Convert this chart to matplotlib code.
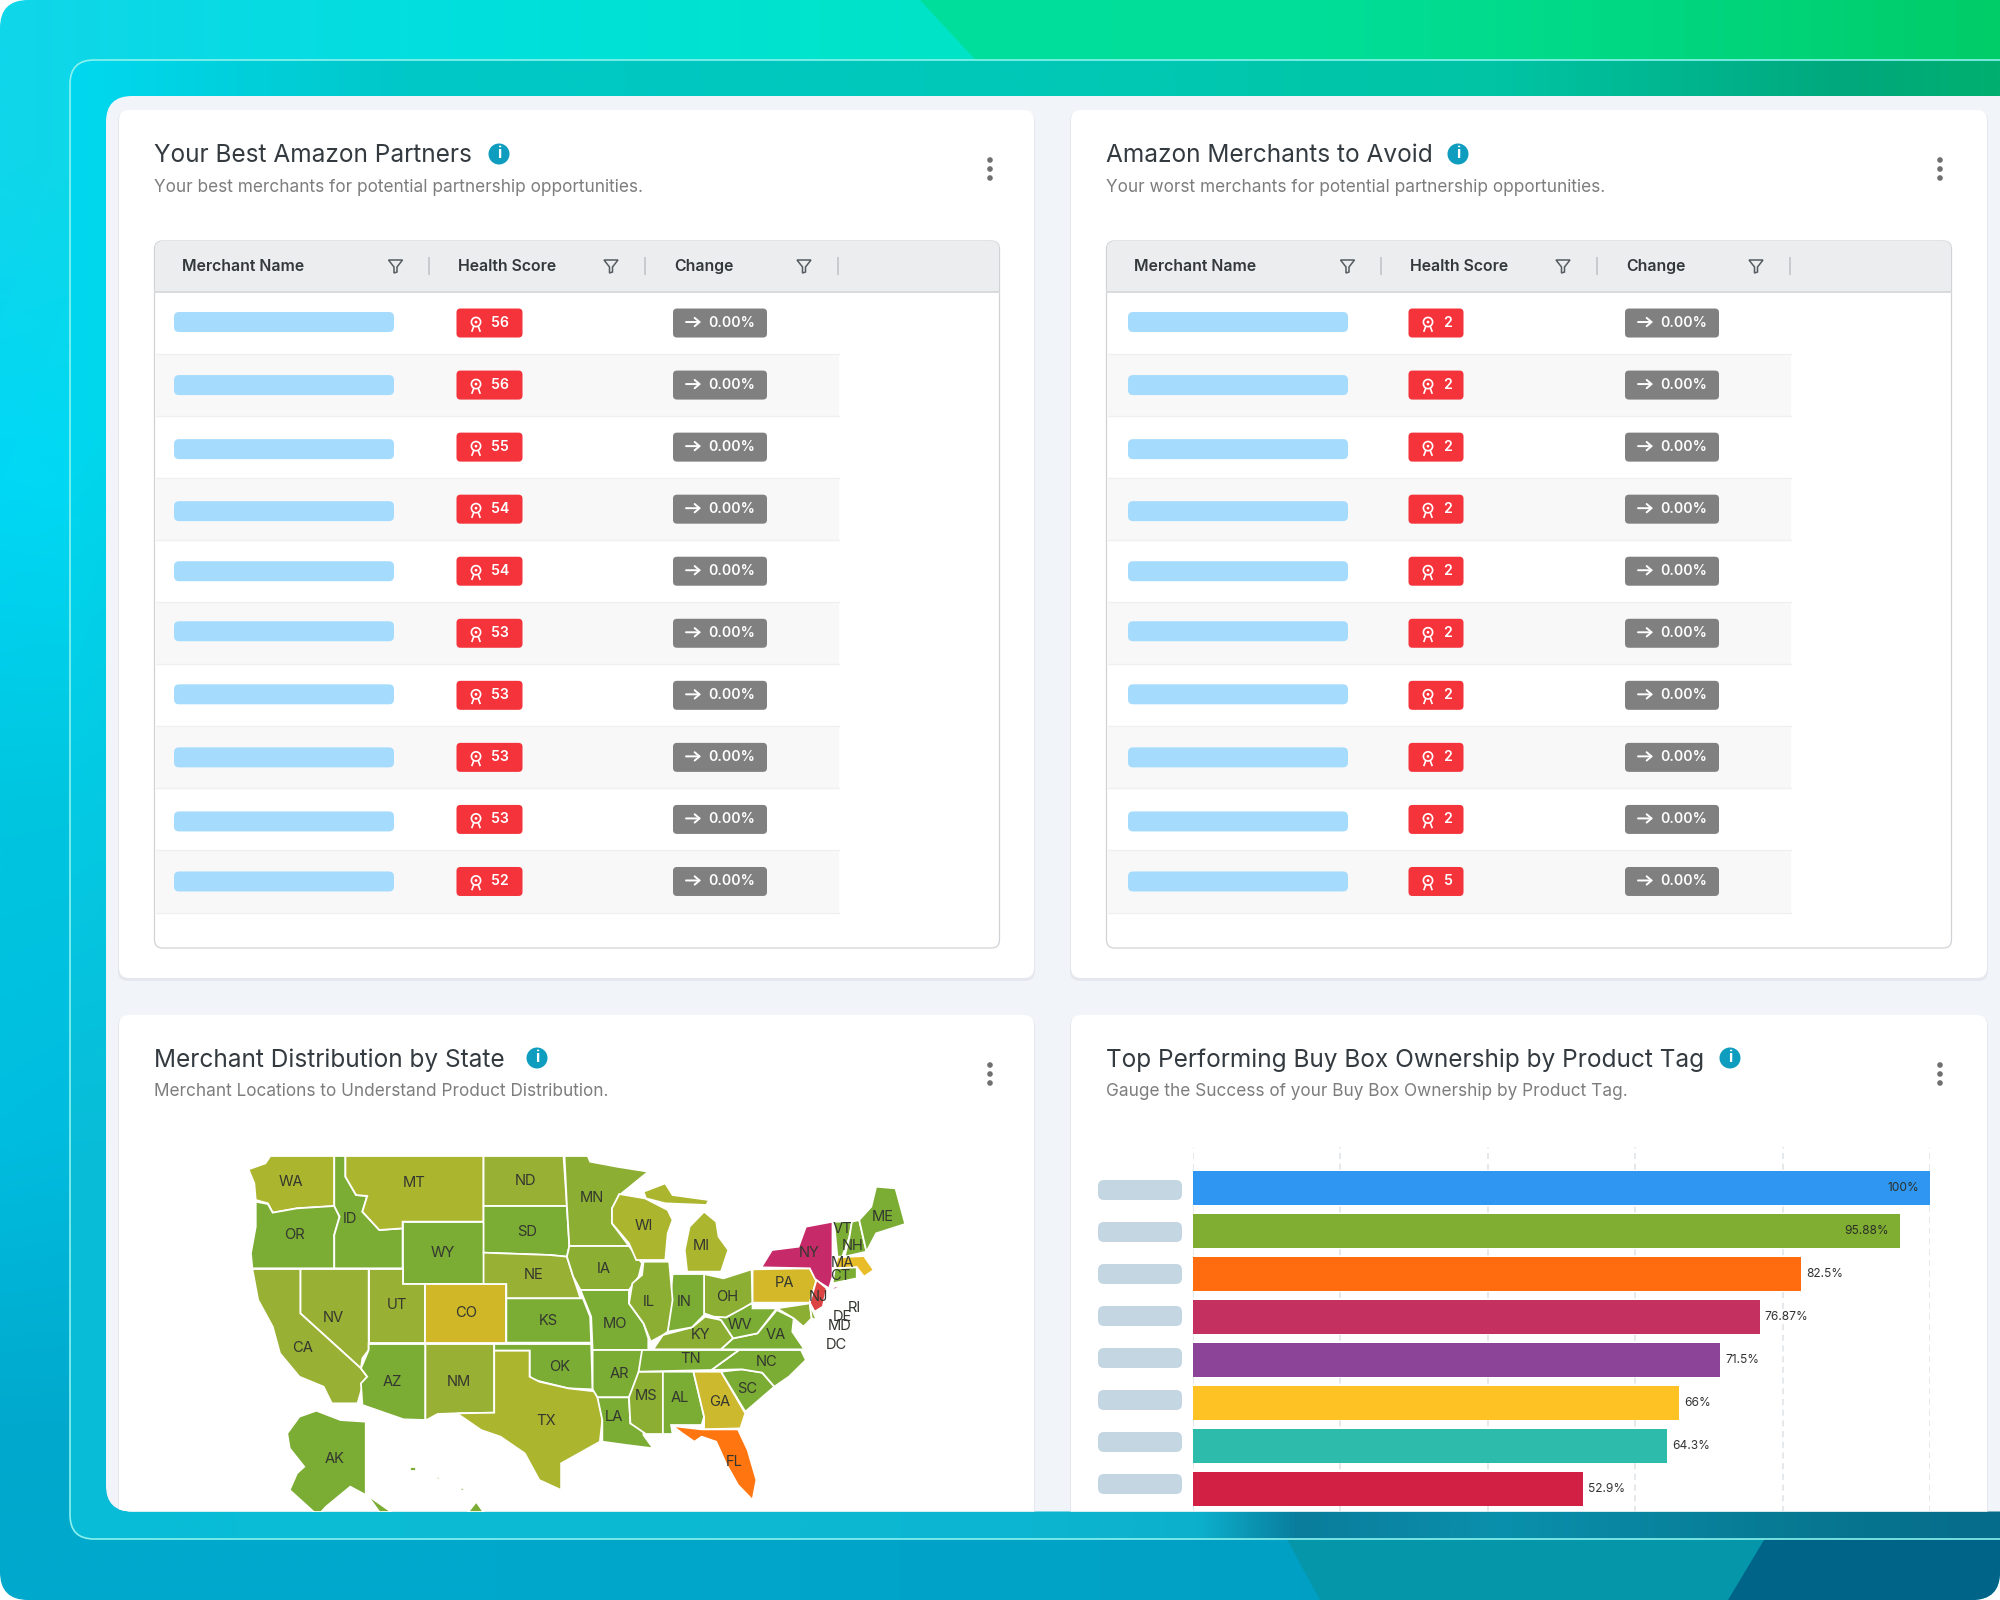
#! /usr/bin/python3
# dashboard screenshot: two merchant tables, state map, buy box bars
import numpy as np
import matplotlib
matplotlib.use('Agg')
import matplotlib.pyplot as plt
from matplotlib.colors import to_rgb
from matplotlib.patches import FancyBboxPatch, Rectangle, Circle, Polygon

plt.rcParams['font.family'] = ['Inter', 'DejaVu Sans']

# ---- data ----
best_scores = [56, 56, 55, 54, 54, 53, 53, 53, 53, 52]
avoid_scores = [2, 2, 2, 2, 2, 2, 2, 2, 2, 5]
change_values = ['0.00%'] * 10
table_columns = ['Merchant Name', 'Health Score', 'Change']

tag_values = [100, 95.88, 82.5, 76.87, 71.5, 66, 64.3, 52.9]
tag_labels = ['100%', '95.88%', '82.5%', '76.87%', '71.5%', '66%', '64.3%', '52.9%']
tag_colors = ['#2f97f2', '#7fae33', '#ff6c10', '#c43060', '#8c4498', '#ffc224', '#2dbcab', '#d21f44']
tag_ticks = [0, 20, 40, 60, 80, 100]

GREEN = '#7bac33'
LIME = '#8cae33'
MOSS = '#98b033'
OLIVE = '#acb52e'

# state outlines in map units (1568 x 1176 box)
state_shapes = {
    'WA': [(100,148),(135,130),(145,108),(277,108),(277,258),(200,265),(150,278),(140,250),(115,240),(112,190)],
    'OR': [(115,245),(140,252),(150,278),(200,265),(277,258),(288,290),(277,345),(277,445),(108,445),(105,400),(115,320)],
    'ID': [(277,108),(300,108),(300,170),(322,225),(345,228),(335,275),(370,330),(418,325),(418,445),(277,445),(277,345),(288,290),(277,258)],
    'MT': [(300,108),(585,108),(585,305),(418,305),(418,325),(370,330),(335,275),(345,228),(322,225),(300,170)],
    'WY': [(418,305),(585,305),(585,492),(418,492)],
    'UT': [(348,447),(418,447),(418,492),(465,492),(465,668),(348,668)],
    'NV': [(207,447),(348,447),(348,690),(335,715),(332,745),(207,580)],
    'CA': [(108,447),(207,447),(207,580),(332,745),(345,770),(335,800),(325,850),(272,850),(255,800),(205,770),(165,700),(150,620),(120,540)],
    'CO': [(465,492),(632,492),(632,668),(465,668)],
    'AZ': [(348,672),(465,672),(465,900),(420,898),(335,855),(332,790),(345,770),(332,745),(348,690)],
    'NM': [(465,672),(607,672),(607,878),(525,880),(490,882),(470,898),(465,900)],
    'ND': [(585,108),(750,108),(757,258),(585,258)],
    'SD': [(585,258),(757,258),(762,378),(757,410),(722,405),(585,398)],
    'NE': [(585,398),(722,405),(757,410),(770,470),(785,535),(632,535),(632,492),(585,492)],
    'KS': [(632,535),(790,535),(805,590),(807,668),(632,668)],
    'OK': [(607,672),(807,672),(810,808),(760,805),(690,780),(680,770),(680,692),(607,692)],
    'TX': [(607,692),(680,692),(680,770),(700,785),(760,805),(820,815),(830,900),(825,965),(745,1030),(745,1110),(700,1080),(670,1000),(620,950),(580,930),(530,880),(607,878)],
    'MN': [(752,108),(800,108),(805,125),(860,140),(925,155),(870,220),(850,265),(850,310),(885,378),(762,378),(757,258)],
    'IA': [(762,378),(885,378),(912,430),(905,470),(885,510),(785,510),(770,470),(757,410)],
    'MO': [(785,510),(885,510),(885,550),(915,610),(925,655),(925,690),(810,690),(807,590)],
    'AR': [(810,690),(925,690),(905,770),(885,832),(820,832),(810,808)],
    'LA': [(820,832),(885,832),(888,910),(915,925),(915,945),(935,985),(880,975),(830,965),(830,900)],
    'MS': [(905,755),(955,755),(955,942),(920,942),(888,910),(885,832)],
    'AL': [(955,755),(1018,755),(1040,890),(1035,915),(972,915),(975,942),(955,942)],
    'GA': [(1018,755),(1075,755),(1125,880),(1115,925),(1040,928),(1040,890)],
    'FL': [(975,918),(1035,928),(1110,928),(1130,990),(1148,1080),(1140,1140),(1110,1095),(1085,1030),(1065,965),(1035,950),(1020,965),(995,940)],
    'SC': [(1075,755),(1118,748),(1160,758),(1185,800),(1125,875)],
    'NC': [(1055,750),(1112,690),(1240,690),(1250,720),(1215,770),(1185,800),(1160,758),(1118,748)],
    'TN': [(912,690),(1112,690),(1055,750),(905,755)],
    'KY': [(935,688),(955,645),(1015,622),(1042,590),(1075,600),(1100,655),(1075,688)],
    'VA': [(1075,688),(1100,655),(1150,640),(1190,570),(1225,595),(1222,635),(1247,688)],
    'WV': [(1060,590),(1085,592),(1130,555),(1140,550),(1140,565),(1190,565),(1150,640),(1100,655),(1075,600)],
    'OH': [(1040,462),(1080,475),(1138,448),(1140,548),(1120,565),(1085,592),(1060,590),(1040,580)],
    'IN': [(975,462),(1040,462),(1040,585),(1015,622),(965,635)],
    'IL': [(915,425),(968,425),(975,540),(965,635),(955,645),(930,665),(915,610),(885,550),(892,490),(912,465)],
    'WI': [(865,222),(918,235),(965,270),(975,300),(965,340),(960,420),(900,420),(885,370),(850,310),(850,265)],
    'MI': [(1010,320),(1040,275),(1065,305),(1070,350),(1090,390),(1075,455),(1005,455),(1000,390)],
    'MI2': [(915,215),(960,190),(975,225),(1050,240),(1045,255),(960,250),(920,235)],
    'PA': [(1140,448),(1258,445),(1272,480),(1258,548),(1140,548)],
    'NY': [(1158,442),(1180,390),(1235,380),(1250,320),(1305,305),(1305,470),(1298,505),(1270,480),(1258,445)],
    'NY2': [(1298,505),(1335,490),(1310,508)],
    'NJ': [(1272,480),(1293,505),(1285,560),(1268,575),(1258,548)],
    'VT': [(1308,305),(1345,305),(1340,350),(1325,410),(1315,410)],
    'NH': [(1345,305),(1360,300),(1375,395),(1330,410),(1340,350)],
    'ME': [(1360,300),(1385,260),(1395,200),(1435,205),(1455,312),(1395,340),(1375,395)],
    'MA': [(1315,412),(1370,408),(1390,450),(1370,470),(1355,442),(1310,445)],
    'CT': [(1310,445),(1355,442),(1355,475),(1305,490)],
    'MD': [(1190,565),(1258,550),(1262,595),(1245,620),(1225,595)],
    'DE': [(1258,550),(1272,600),(1262,595)],
    'AK': [(240,872),(290,900),(342,905),(342,1125),(310,1100),(285,1130),(260,1160),(250,1176),(235,1176),(185,1110),(200,1060),(215,1040),(185,985),(180,940),(205,890)],
    'AK2': [(345,1125),(395,1176),(370,1176)],
    'HI': [(570,1145),(585,1176),(553,1176)],
    'HI2': [(433,1040),(446,1040),(446,1052),(433,1052)],
    'HI3': [(485,1068),(495,1072),(492,1082)],
    'HI4': [(535,1102),(548,1106),(540,1114)],
}
state_fill = {
    'WA': OLIVE, 'OR': GREEN, 'CA': MOSS, 'NV': MOSS, 'ID': GREEN, 'MT': OLIVE, 'WY': GREEN, 'UT': MOSS,
    'CO': '#cfb728', 'AZ': GREEN, 'NM': MOSS, 'ND': MOSS, 'SD': GREEN, 'NE': MOSS, 'KS': GREEN, 'OK': GREEN,
    'TX': OLIVE, 'MN': LIME, 'IA': LIME, 'MO': GREEN, 'AR': GREEN, 'LA': GREEN, 'MS': LIME, 'AL': GREEN,
    'GA': '#cdb92d', 'FL': '#ff7510', 'SC': GREEN, 'NC': GREEN, 'TN': GREEN, 'KY': LIME, 'VA': GREEN, 'WV': GREEN,
    'OH': LIME, 'IN': GREEN, 'IL': LIME, 'WI': OLIVE, 'MI': OLIVE, 'MI2': OLIVE, 'PA': '#d4b82a', 'NY': '#c72a68',
    'NY2': '#c72a68', 'NJ': '#dc4343', 'VT': GREEN, 'NH': GREEN, 'ME': GREEN, 'MA': '#e8bd28', 'CT': GREEN,
    'MD': LIME, 'DE': LIME, 'AK': GREEN, 'AK2': GREEN, 'HI': GREEN, 'HI2': GREEN, 'HI3': GREEN, 'HI4': GREEN,
}
state_labels = {
    'WA': (188,187), 'MT': (441,188), 'ND': (672,182), 'MN': (808,235), 'ME': (1408,292), 'WI': (916,318),
    'OR': (195,344), 'ID': (310,297), 'SD': (674,337), 'VT': (1325,328), 'NH': (1346,378), 'MI': (1034,378),
    'WY': (501,398), 'NY': (1256,398), 'MA': (1325,430), 'CT': (1322,468), 'IA': (834,447), 'NE': (688,465),
    'PA': (1206,490), 'OH': (1087,530), 'NJ': (1276,530), 'UT': (406,556), 'IL': (927,545), 'IN': (998,546),
    'RI': (1350,565), 'DE': (1325,590), 'CO': (549,580), 'NV': (276,594), 'KS': (718,602), 'MO': (857,611),
    'MD': (1320,618), 'WV': (1114,614), 'KY': (1033,646), 'VA': (1188,646), 'CA': (211,684), 'DC': (1313,674),
    'TN': (1012,716), 'OK': (741,740), 'NC': (1170,725), 'AR': (866,762), 'AZ': (397,785), 'NM': (535,787),
    'SC': (1128,806), 'MS': (920,827), 'AL': (990,833), 'GA': (1073,845), 'LA': (853,890), 'TX': (714,902),
    'FL': (1103,1026), 'AK': (278,1017),
}

# ---- layout ----
W, H = 2000, 1600
CARD_DX = 952
ROW_H = 62.05
ROW_TOP = 292
NAME_NUDGE = [-1, 0, 2, 2, 0, -2, -1, 0, 2, 0]


def gradient(x_stops, rows, nx=400):
    '''rows of hex colours, one row for each y stop, blended along x'''
    out = []
    xs = np.linspace(x_stops[0], x_stops[-1], nx)
    for row in rows:
        rgb = np.array([to_rgb(c) for c in row])
        out.append(np.stack([np.interp(xs, x_stops, rgb[:, k]) for k in range(3)], axis=1))
    return np.array(out)


def box(ax, x, y, w, h, r, **kw):
    p = FancyBboxPatch((x, y), w, h, boxstyle='round,pad=0,rounding_size=%s' % r, **kw)
    ax.add_patch(p)
    return p


fig = plt.figure(figsize=(20, 16), dpi=100, facecolor='white')
ax = fig.add_axes([0, 0, 1, 1])
ax.set_xlim(0, W)
ax.set_ylim(H, 0)
ax.axis('off')

# outer backdrop
outer = box(ax, 0, 0, W, H, 28, fc='none', ec='none')
img = gradient([0, 500, 900, 1300, 2000],
               [['#10d6ea', '#00e0dc', '#00e4c8', '#00e0c0', '#00dcb0'],
                ['#00d8f6', '#00dfe4', '#00e2d0', '#00e0c8', '#00d8b0'],
                ['#00c6e0', '#00c4dc', '#00c4dc', '#00c4d8', '#00b0c8'],
                ['#00bee0', '#00b4d8', '#00aed0', '#00a8c8', '#00a0c0'],
                ['#00a8cc', '#00a8cc', '#00a4c8', '#00a0c4', '#0098bc']])
im = ax.imshow(img, extent=[0, W, H, 0], aspect='auto', interpolation='bilinear', zorder=1)
im.set_clip_path(outer)

# green wedge top right, teal and dark shapes bottom right
wedge = Polygon([(920, 0), (2000, 0), (2000, 70), (985, 70)], fc='none', ec='none')
ax.add_patch(wedge)
im = ax.imshow(gradient([920, 1300, 1560, 2000], [['#00de9c', '#00de9a', '#00da88', '#00cc68']]),
               extent=[920, 2000, 70, 0], aspect='auto', interpolation='bilinear', zorder=1.1)
im.set_clip_path(wedge)
dark = Polygon([(1760, 1530), (2000, 1530), (2000, 1600), (1728, 1600)], fc='#006488', ec='none', zorder=1.1)
ax.add_patch(dark)
teal = Polygon([(1282, 1530), (1770, 1530), (1728, 1600), (1320, 1600)], fc='#0596aa', ec='none', zorder=1.1)
ax.add_patch(teal)
dark.set_clip_path(outer)

# frame
frame = box(ax, 70, 60, 1930 + 40, 1479, 24, fc='none', ec='#8af2ee', lw=1.2, zorder=2.2)
frame_x = [70, 400, 1000, 1200, 1300, 1500, 1850, 2000]
im = ax.imshow(gradient(frame_x,
                        [['#00d8f0', '#00c8c8', '#00c8b8', '#00c8b0', '#00c6aa', '#00c4a4', '#00a87c', '#00b070'],
                         ['#08bcd8', '#0cbcd4', '#0cb6d2', '#0cb0cc', '#0a7c9c', '#0a90ac', '#07758f', '#066c8c']]),
               extent=[70, 2000, 1539, 60], aspect='auto', interpolation='bilinear', zorder=2)
im.set_clip_path(frame)

# light container
container = box(ax, 106, 96, W, 1415.5, 26, fc='#f1f4f9', ec='none', zorder=3)


def card(x, y, w, h):
    s = box(ax, x - 1, y + 1, w + 2, h + 2, 10, fc='#e4e8ee', ec='none', zorder=3.2)
    c = box(ax, x, y, w, h, 10, fc='white', ec='none', zorder=3.3)
    s.set_clip_path(container)
    c.set_clip_path(container)


def header(x, y_title, title, title_w, subtitle):
    ax.text(x, y_title + 2, title, fontsize=17.6, color='#333a40', va='center', zorder=5)
    ax.text(x, y_title + 34, subtitle, fontsize=12.4, color='#7d7d7d', va='center', zorder=5)
    ic = x + title_w
    ax.add_patch(Circle((ic, y_title), 10.5, fc='#0f9dbf', ec='none', zorder=5))
    ax.text(ic, y_title, 'i', fontsize=11, color='white', fontweight='bold', ha='center', va='center', zorder=6)


def kebab(x, y):
    for dy in (-9, 0, 9):
        ax.add_patch(Circle((x, y + dy), 2.8, fc='#707070', ec='none', zorder=5))


def funnel(x, y):
    pts = [(x - 7, y - 6), (x + 7, y - 6), (x + 1.5, y + 1), (x + 1.5, y + 6), (x - 1.5, y + 7), (x - 1.5, y + 1)]
    ax.add_patch(Polygon(pts, fc='none', ec='#555b60', lw=1.1, zorder=5))


def medal(x, y):
    ax.add_patch(Circle((x, y - 1), 4.6, fc='none', ec='white', lw=1.2, zorder=6))
    ax.add_patch(Circle((x, y - 1), 1.4, fc='white', ec='none', zorder=6))
    ax.plot([x - 2.5, x - 4], [y + 4, y + 8], color='white', lw=1.2, zorder=6)
    ax.plot([x + 2.5, x + 4], [y + 4, y + 8], color='white', lw=1.2, zorder=6)


def table(dx, scores, badge_w):
    box(ax, 154.5 + dx, 241, 845, 707, 8, fc='white', ec='#d0d3d6', lw=0.9, zorder=4)
    box(ax, 155 + dx, 241, 844, 51, 8, fc='#ebedef', ec='none', zorder=4.1)
    ax.add_patch(Rectangle((155 + dx, 270), 844, 22, fc='#ebedef', ec='none', zorder=4.1))
    ax.plot([155 + dx, 999 + dx], [292, 292], color='#d8dbde', lw=1.4, zorder=4.2)
    for name, tx, fx, sx in zip(table_columns, [182, 458, 674.5], [395.5, 611, 804], [429, 645, 837.6]):
        ax.text(tx + dx, 271, name, fontsize=11.4, color='#33383c', fontweight='semibold', va='baseline', zorder=5)
        funnel(fx + dx, 266)
        ax.plot([sx + dx, sx + dx], [258, 274], color='#c8cbce', lw=1.4, zorder=5)
    for i, score in enumerate(scores):
        yc = ROW_TOP + ROW_H * (i + 0.5)
        if i % 2 == 1:
            ax.add_patch(Rectangle((155.5 + dx, yc - ROW_H / 2), 683.5, ROW_H, fc='#f8f8f8', ec='none', zorder=4.2))
        ax.plot([155.5 + dx, 839 + dx], [yc + ROW_H / 2] * 2, color='#f0f0f0', lw=1, zorder=4.3)
        box(ax, 174 + dx + (2 if dx else 0), yc - 10 + NAME_NUDGE[i], 220, 20, 5, fc='#a5dcfd', ec='none', zorder=5)
        box(ax, 456.5 + dx, yc - 14.5, badge_w, 29, 4, fc='#f4333b', ec='none', zorder=5)
        medal(476 + dx, yc)
        ax.text(500 + dx if badge_w > 60 else 496 + dx, yc, str(score), fontsize=10.2, color='white',
                fontweight='semibold', ha='center', va='center', zorder=6)
        box(ax, 673 + dx, yc - 14.5, 94, 29, 4, fc='#808080', ec='none', zorder=5)
        ax.annotate('', xy=(701 + dx, yc - 1), xytext=(686 + dx, yc - 1), zorder=6,
                    arrowprops=dict(arrowstyle='->,head_length=0.35,head_width=0.3', color='white', lw=1.4,
                                    shrinkA=0, shrinkB=0))
        ax.text(732 + dx, yc, change_values[i], fontsize=10.2, color='white', fontweight='semibold',
                ha='center', va='center', zorder=6)


card(119, 110, 915, 868)
card(1071, 110, 916, 868)
card(119, 1015, 915, 520)
card(1071, 1015, 916, 520)

header(154, 154, 'Your Best Amazon Partners', 345, 'Your best merchants for potential partnership opportunities.')
header(1106, 154, 'Amazon Merchants to Avoid', 352, 'Your worst merchants for potential partnership opportunities.')
header(154, 1058, 'Merchant Distribution by State', 383, 'Merchant Locations to Understand Product Distribution.')
header(1106, 1058, 'Top Performing Buy Box Ownership by Product Tag', 624, 'Gauge the Success of your Buy Box Ownership by Product Tag.')
kebab(990, 169)
kebab(1940, 169)
kebab(990, 1074)
kebab(1940, 1074)

table(0, best_scores, 66)
table(CARD_DX, avoid_scores, 55)

# map
ax_map = fig.add_axes([200 / W, 1 - 1511.7 / H, 760 / W, 391.7 / H], zorder=6)
ax_map.set_xlim(0, 1568)
ax_map.set_ylim(1175, 0)
ax_map.axis('off')
for st, pts in state_shapes.items():
    ax_map.add_patch(Polygon(pts, closed=True, fc=state_fill[st], ec='white', lw=1.3))
for st, (lx, ly) in state_labels.items():
    ax_map.text(lx, ly, st, fontsize=10.6, color='#33372f', ha='center', va='center')

# tag bars
ax_bar = fig.add_axes([1193 / W, 1 - 1511.7 / H, 737 / W, 364.7 / H], zorder=6)
ax_bar.patch.set_alpha(0)
y_pos = np.arange(len(tag_values))
ax_bar.set_xlim(0, 100)
ax_bar.set_ylim(7.52, -0.953)
for s in ax_bar.spines.values():
    s.set_visible(False)
ax_bar.set_xticks(tag_ticks)
ax_bar.set_yticks([])
ax_bar.tick_params(axis='x', length=0, labelbottom=False)
ax_bar.grid(axis='x', color='#dfe3e7', linestyle=(0, (4, 3)), lw=1.1)
ax_bar.set_axisbelow(True)
ax_bar.barh(y_pos, tag_values, height=0.79, color=tag_colors, edgecolor='none')
for y, v, lab in zip(y_pos, tag_values, tag_labels):
    if v > 90:
        ax_bar.text(v - 1.4, y, lab, fontsize=8.6, color='#2b2f26', ha='right', va='center')
    else:
        ax_bar.text(v + 0.7, y, lab, fontsize=8.6, color='#333333', ha='left', va='center')
# blanked tag names
for i in range(len(tag_values)):
    box(ax, 1098, 1180 + 42 * i, 84, 20, 6, fc='#c5d6e3', ec='none', zorder=5)

ax.set_xlim(0, W)
ax.set_ylim(H, 0)
fig.savefig('out.png', dpi=100, facecolor='white')
